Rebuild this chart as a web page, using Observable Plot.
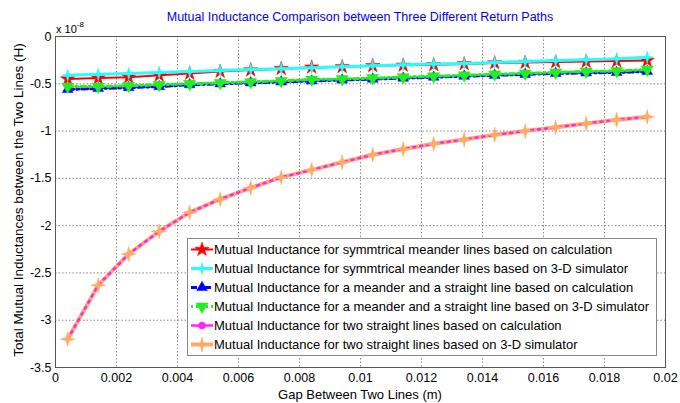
<!DOCTYPE html>
<html><head><meta charset="utf-8">
<script src="https://cdn.jsdelivr.net/npm/d3@7"></script>
<script src="https://cdn.jsdelivr.net/npm/@observablehq/plot@0.6"></script>
<style>
body{margin:0;background:#fff;font-family:"Liberation Sans",Arial,sans-serif;}
#wrap{position:relative;width:680px;height:403px;overflow:hidden;}
#title{position:absolute;left:55px;width:610px;top:10px;text-align:center;font-size:12.5px;color:#0000f0;white-space:nowrap;}
#expo{position:absolute;left:56px;top:20px;font-size:11px;color:#000;}
#expo sup{font-size:8px;vertical-align:6px;}
#chart{position:absolute;left:0;top:28px;}
#legend{position:absolute;left:187px;top:238px;width:468px;height:115px;border:1px solid #888;background:#fff;padding-top:1px;}
.row{height:19px;display:flex;align-items:center;font-size:13px;color:#000;white-space:nowrap;}
.row svg{margin-left:2px;margin-right:0;flex:none;}
#ylab{position:absolute;left:18px;top:200px;transform:translate(-50%,-50%) rotate(-90deg);font-size:13.5px;white-space:nowrap;}
#xlab{position:absolute;left:360px;top:394px;transform:translate(-50%,-50%);font-size:13px;white-space:nowrap;}
</style>
</head><body>
<div id="wrap">
  <div id="chart"></div>
  <div id="title">Mutual Inductance Comparison between Three Different Return Paths</div>
  <div id="expo">x 10<sup>-8</sup></div>
  <div id="ylab">Total Mutual Inductances between the Two Lines (H)</div>
  <div id="xlab">Gap Between Two Lines (m)</div>
  <div id="legend"></div>
</div>
<script>
// Gap between the two lines (m)
const gap = [0.0004,0.0014,0.0024,0.0034,0.0044,0.0054,0.0064,0.0074,0.0084,0.0094,0.0104,0.0114,0.0124,0.0134,0.0144,0.0154,0.0164,0.0174,0.0184,0.0194];
// Mutual inductance values, in units of 1e-8 H
const symMeanderCalc = [-0.45,-0.44,-0.43,-0.41,-0.39,-0.37,-0.355,-0.34,-0.325,-0.32,-0.31,-0.305,-0.30,-0.29,-0.28,-0.275,-0.27,-0.265,-0.26,-0.255];
const symMeanderSim = [-0.41,-0.40,-0.39,-0.38,-0.37,-0.36,-0.35,-0.34,-0.33,-0.32,-0.31,-0.30,-0.29,-0.285,-0.275,-0.265,-0.255,-0.245,-0.235,-0.22];
const meanderStraightCalc = [-0.56,-0.55,-0.54,-0.53,-0.51,-0.50,-0.49,-0.48,-0.47,-0.46,-0.45,-0.44,-0.43,-0.42,-0.41,-0.40,-0.39,-0.385,-0.38,-0.37];
const meanderStraightSim = [-0.53,-0.53,-0.52,-0.51,-0.50,-0.49,-0.48,-0.47,-0.455,-0.45,-0.44,-0.43,-0.42,-0.41,-0.40,-0.39,-0.38,-0.37,-0.365,-0.35];
const straightCalc = [-3.20,-2.63,-2.30,-2.06,-1.86,-1.72,-1.60,-1.49,-1.41,-1.33,-1.25,-1.19,-1.135,-1.09,-1.04,-1.00,-0.96,-0.92,-0.88,-0.85];
const straightSim = [-3.20,-2.63,-2.30,-2.06,-1.86,-1.72,-1.60,-1.49,-1.41,-1.33,-1.25,-1.19,-1.135,-1.09,-1.04,-1.00,-0.96,-0.92,-0.88,-0.85];
// Tick labels
const xTicks = [0,0.002,0.004,0.006,0.008,0.01,0.012,0.014,0.016,0.018,0.02];
const yTicks = [0,-0.5,-1,-1.5,-2,-2.5,-3,-3.5];
const seriesNames = [
  "Mutual Inductance for symmtrical meander lines based on calculation",
  "Mutual Inductance for symmtrical meander lines based on 3-D simulator",
  "Mutual Inductance for a meander and a straight line based on calculation",
  "Mutual Inductance for a meander and a straight line based on 3-D simulator",
  "Mutual Inductance for two straight lines based on calculation",
  "Mutual Inductance for two straight lines based on 3-D simulator"
];

const sparkle = {
  draw(ctx, size) {
    const r = Math.sqrt(size / Math.PI) * 1.25, ri = r * 0.3;
    for (let k = 0; k < 8; k++) {
      const a = k * Math.PI / 4 - Math.PI / 2, rad = k % 2 ? ri : r;
      const px = Math.cos(a) * rad, py = Math.sin(a) * rad;
      k ? ctx.lineTo(px, py) : ctx.moveTo(px, py);
    }
    ctx.closePath();
  }
};

const styles = [
  {values: symMeanderCalc, color: "#ff0000", width: 2, dash: null, legDash: null, symbol: d3.symbolStar, r: 4.5, rotate: 0},
  {values: symMeanderSim, color: "#22ffff", width: 3, dash: null, legDash: null, symbol: sparkle, r: 5, rotate: 0},
  {values: meanderStraightCalc, color: "#0000ff", width: 3, dash: "6,3,2,3", legDash: "6,3,2,3", symbol: d3.symbolTriangle, r: 4, rotate: 0},
  {values: meanderStraightSim, color: "#22ee22", width: 3, dash: "5,3,2,3", legDash: "2,3", symbol: d3.symbolTriangle, r: 4.5, rotate: 180},
  {values: straightCalc, color: "#ff22ff", width: 2.5, dash: "2,5", legDash: null, symbol: d3.symbolCircle, r: 3.5, rotate: 0},
  {values: straightSim, color: "#ffaa66", width: 4, dash: null, legDash: null, symbol: sparkle, r: 6, rotate: 0}
];
const tables = styles.map(s => gap.map((x, i) => ({x, y: s.values[i]})));

const fmt = d => String(d);
const lineMark = (i) => Plot.line(tables[i], {x: "x", y: "y", stroke: styles[i].color, strokeWidth: styles[i].width, strokeDasharray: styles[i].dash});
const dotMark = (i) => Plot.dot(tables[i], {x: "x", y: "y", fill: styles[i].color, stroke: styles[i].color, strokeWidth: 0.5, symbol: styles[i].symbol, r: styles[i].r, rotate: styles[i].rotate});

const chart = Plot.plot({
  width: 680, height: 375,
  marginLeft: 55, marginRight: 15, marginTop: 8, marginBottom: 36,
  style: {fontFamily: "'Liberation Sans', Arial, sans-serif", fontSize: "12px", color: "#000", background: "#fff"},
  x: {domain: [0, 0.02]},
  y: {domain: [-3.5, 0]},
  marks: [
    Plot.gridX(xTicks, {stroke: "#888", strokeOpacity: 1, strokeDasharray: "1.5,2"}),
    Plot.gridY(yTicks, {stroke: "#888", strokeOpacity: 1, strokeDasharray: "1.5,2"}),
    Plot.axisX(xTicks, {tickSize: 0, tickPadding: 6, tickFormat: fmt, label: null, fontSize: 12.5}),
    Plot.axisY(yTicks, {tickSize: 0, tickPadding: 4, tickFormat: fmt, label: null, fontSize: 12.5}),
    Plot.frame({stroke: "#555", strokeWidth: 1}),
    lineMark(0), dotMark(0),
    lineMark(1), dotMark(1),
    lineMark(2), dotMark(2),
    lineMark(3), dotMark(3),
    lineMark(5),
    lineMark(4),
    dotMark(5)
  ]
});
document.getElementById("chart").append(chart);

// legend
const leg = document.getElementById("legend");
styles.forEach((s, i) => {
  const row = document.createElement("div");
  row.className = "row";
  const svg = d3.create("svg").attr("width", 24).attr("height", 19);
  svg.append("line").attr("x1", 1).attr("x2", 23).attr("y1", 9.5).attr("y2", 9.5)
    .attr("stroke", s.color).attr("stroke-width", s.width).attr("stroke-dasharray", s.legDash);
  svg.append("path").attr("d", d3.symbol(s.symbol, Math.PI * s.r * s.r)())
    .attr("transform", `translate(12,9.5) rotate(${s.rotate})`).attr("fill", s.color).attr("stroke", s.color).attr("stroke-width", 0.5);
  row.append(svg.node());
  const t = document.createElement("span");
  t.textContent = seriesNames[i];
  row.append(t);
  leg.append(row);
});
</script>
</body></html>
